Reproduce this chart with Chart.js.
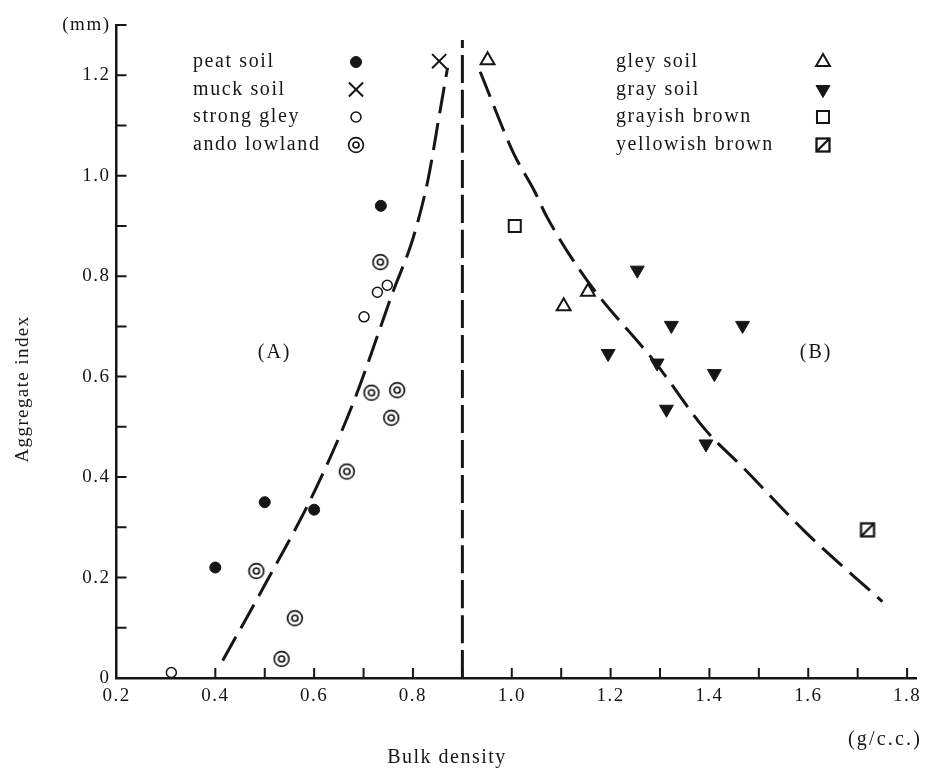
<!DOCTYPE html>
<html>
<head>
<meta charset="utf-8">
<title>Aggregate index vs bulk density</title>
<script src="https://cdn.jsdelivr.net/npm/chart.js@4.4.1/dist/chart.umd.min.js"></script>
<style>
    html, body { margin: 0; padding: 0; background: #fff; }
    #chart { display: block; }
</style>
</head>
<body>
<canvas id="chart" width="926" height="770"></canvas>
<script>
// points: [bulk density (g/c.c.), aggregate index (mm)]
const peatSoil = [[0.40, 0.22], [0.50, 0.35], [0.60, 0.335], [0.735, 0.94]];
const muckSoil = [[0.853, 1.228]];
const strongGley = [[0.311, 0.011], [0.701, 0.719], [0.728, 0.768], [0.748, 0.782]];
const andoLowland = [[0.483, 0.213], [0.534, 0.038], [0.561, 0.119], [0.666, 0.411], [0.716, 0.568], [0.734, 0.828], [0.756, 0.518], [0.768, 0.573]];
const gleySoil = [[0.951, 1.23], [1.105, 0.740], [1.154, 0.769]];
const graySoil = [[1.195, 0.646], [1.254, 0.812], [1.294, 0.627], [1.313, 0.535], [1.323, 0.702], [1.393, 0.466], [1.410, 0.606], [1.467, 0.702]];
const grayishBrown = [[1.006, 0.900]];
const yellowishBrown = [[1.72, 0.295]];

// dashed curves (A), (B) and the divider
const curveA = [[0.415, 0.035], [0.50, 0.185], [0.60, 0.37], [0.68, 0.55], [0.76, 0.77], [0.80, 0.875], [0.83, 0.99], [0.855, 1.13], [0.870, 1.215]];
const curveB = [[0.936, 1.207], [1.004, 1.044], [1.045, 0.971], [1.071, 0.918], [1.152, 0.792], [1.292, 0.626], [1.392, 0.494], [1.467, 0.420], [1.596, 0.289], [1.75, 0.152]];
const divider = [[0.9, 0], [0.9, 1.27]];

// axes
const xTicks = [0.2, 0.3, 0.4, 0.5, 0.6, 0.7, 0.8, 0.9, 1.0, 1.1, 1.2, 1.3, 1.4, 1.5, 1.6, 1.7, 1.8];
const xTickLabels = ['0.2', '', '0.4', '', '0.6', '', '0.8', '', '1.0', '', '1.2', '', '1.4', '', '1.6', '', '1.8'];
const xTickMarks = [0.4, 0.5, 0.6, 0.7, 0.8, 0.9, 1.0, 1.1, 1.2, 1.3, 1.4, 1.5, 1.6, 1.7, 1.8];
const yTicks = [0, 0.1, 0.2, 0.3, 0.4, 0.5, 0.6, 0.7, 0.8, 0.9, 1.0, 1.1, 1.2, 1.3];
const yTickLabels = ['0', '', '0.2', '', '0.4', '', '0.6', '', '0.8', '', '1.0', '', '1.2', '(mm)'];

const regionLabels = ['(A)', '(B)'];
const regionAt = [[0.52, 0.647], [1.616, 0.647]];

const INK = '#161616';
const SERIF = "'Liberation Serif', 'DejaVu Serif', serif";

function makeMarker(size, draw) {
    const c = document.createElement('canvas');
    c.width = size;
    c.height = size;
    draw(c.getContext('2d'), size / 2);
    return c;
}

const andoMarker = makeMarker(22, (g, m) => {
    g.strokeStyle = INK;
    g.fillStyle = '#fff';
    g.lineWidth = 1.7;
    g.beginPath();
    g.arc(m, m, 7.4, 0, Math.PI * 2);
    g.fill();
    g.stroke();
    g.beginPath();
    g.arc(m, m, 3, 0, Math.PI * 2);
    g.stroke();
});

const yellowMarker = makeMarker(20, (g, m) => {
    g.strokeStyle = INK;
    g.fillStyle = '#fff';
    g.lineWidth = 2.3;
    g.fillRect(m - 6.5, m - 6.5, 13, 13);
    g.strokeRect(m - 6.5, m - 6.5, 13, 13);
    g.beginPath();
    g.moveTo(m - 6.5, m + 6.5);
    g.lineTo(m + 6.5, m - 6.5);
    g.stroke();
});

const toXY = pts => pts.map(p => ({ x: p[0], y: p[1] }));

function pointSet(label, pts, style) {
    return Object.assign({
        label: label,
        data: toXY(pts),
        order: 1,
        borderColor: INK,
        backgroundColor: INK,
        pointBorderWidth: 1.5
    }, style);
}

function dashSet(pts, dash) {
    return {
        label: '',
        data: toXY(pts),
        showLine: true,
        order: 2,
        borderColor: INK,
        borderWidth: 3,
        borderDash: dash,
        borderCapStyle: 'butt',
        pointRadius: 0,
        cubicInterpolationMode: 'monotone'
    };
}

const datasets = [
    pointSet('peat soil', peatSoil, { pointStyle: 'circle', pointRadius: 5.5, pointBorderWidth: 1 }),
    pointSet('muck soil', muckSoil, { pointStyle: 'crossRot', pointRadius: 10, pointBorderWidth: 2 }),
    pointSet('strong gley', strongGley, { pointStyle: 'circle', pointRadius: 5, backgroundColor: '#fff' }),
    pointSet('ando lowland', andoLowland, { pointStyle: andoMarker, pointRadius: 8 }),
    pointSet('gley soil', gleySoil, { pointStyle: 'triangle', pointRadius: 8, backgroundColor: '#fff', pointBorderWidth: 2 }),
    pointSet('gray soil', graySoil, { pointStyle: 'triangle', pointRotation: 180, pointRadius: 8, pointBorderWidth: 1 }),
    pointSet('grayish brown', grayishBrown, { pointStyle: 'rect', pointRadius: 8.5, backgroundColor: '#fff', pointBorderWidth: 2 }),
    pointSet('yellowish brown', yellowishBrown, { pointStyle: yellowMarker, pointRadius: 8 }),
    dashSet(curveA, [27, 10]),
    dashSet(curveB, [27, 10]),
    dashSet(divider, [28, 7])
];

function text(ctx, str, x, y, size, spacing, align) {
    ctx.font = size + 'px ' + SERIF;
    ctx.letterSpacing = spacing + 'px';
    ctx.textAlign = align || 'center';
    ctx.textBaseline = 'middle';
    ctx.fillText(str, x, y);
}

const paperPlugin = {
    id: 'paper',
    beforeDraw(chart) {
        const ctx = chart.ctx;
        ctx.save();
        ctx.fillStyle = '#fff';
        ctx.fillRect(0, 0, chart.width, chart.height);
        ctx.restore();
        ctx.letterSpacing = '1.5px';
    },
    afterDraw(chart) {
        const ctx = chart.ctx;
        const xs = chart.scales.x;
        const ys = chart.scales.y;
        const area = chart.chartArea;
        ctx.save();

        // tick marks point inward
        ctx.strokeStyle = INK;
        ctx.lineWidth = 2;
        ctx.beginPath();
        xTickMarks.forEach(v => {
            const px = xs.getPixelForValue(v);
            ctx.moveTo(px, area.bottom);
            ctx.lineTo(px, area.bottom - 10);
        });
        yTicks.forEach(v => {
            const py = ys.getPixelForValue(v);
            ctx.moveTo(area.left, py);
            ctx.lineTo(area.left + 10, py);
        });
        ctx.stroke();

        ctx.fillStyle = INK;

        // axis titles
        text(ctx, 'Bulk density', 447, 758, 20, 1.5);
        text(ctx, '(g/c.c.)', 885, 740, 20, 2.2);
        ctx.save();
        ctx.translate(23, 389);
        ctx.rotate(-Math.PI / 2);
        text(ctx, 'Aggregate index', 0, 0, 19, 1.4);
        ctx.restore();

        // region labels
        regionLabels.forEach((lab, i) => {
            text(ctx, lab, xs.getPixelForValue(regionAt[i][0]), ys.getPixelForValue(regionAt[i][1]), 20, 2);
        });

        // two-column legend, text left and symbol right
        const rows = [62, 89.5, 117, 145];
        const cols = [{ text: 193, mark: 356 }, { text: 616, mark: 823 }];
        chart.data.datasets.slice(0, 8).forEach((ds, i) => {
            const col = cols[Math.floor(i / 4)];
            const y = rows[i % 4];
            ctx.fillStyle = INK;
            text(ctx, ds.label, col.text, y, 20, 1.6, 'left');
            ctx.fillStyle = ds.backgroundColor;
            ctx.strokeStyle = ds.borderColor;
            ctx.lineWidth = ds.pointBorderWidth;
            Chart.helpers.drawPoint(ctx, {
                pointStyle: ds.pointStyle,
                rotation: ds.pointRotation || 0,
                radius: ds.pointRadius,
                borderWidth: ds.pointBorderWidth
            }, col.mark, y);
        });
        ctx.restore();
    }
};

const tickFont = { family: SERIF, size: 19 };

new Chart(document.getElementById('chart'), {
    type: 'scatter',
    data: { datasets: datasets },
    options: {
        responsive: false,
        animation: false,
        devicePixelRatio: 1,
        events: [],
        layout: { padding: { top: 25, right: 4, bottom: 0, left: 0 }, autoPadding: false },
        plugins: {
            legend: { display: false },
            tooltip: { enabled: false }
        },
        scales: {
            x: {
                type: 'linear',
                min: 0.2,
                max: 1.82,
                afterBuildTicks: s => { s.ticks = xTicks.map(v => ({ value: v })); },
                afterFit: s => { s.height = 92; },
                grid: { display: false, drawTicks: false },
                border: { display: true, color: INK, width: 2.5 },
                ticks: {
                    autoSkip: false,
                    maxRotation: 0,
                    padding: 7,
                    color: INK,
                    font: tickFont,
                    callback: (v, i) => xTickLabels[i]
                }
            },
            y: {
                type: 'linear',
                min: 0,
                max: 1.3,
                afterBuildTicks: s => { s.ticks = yTicks.map(v => ({ value: v })); },
                afterFit: s => { s.width = 116.5; },
                grid: { display: false, drawTicks: false },
                border: { display: true, color: INK, width: 2.5 },
                ticks: {
                    autoSkip: false,
                    padding: 6,
                    color: INK,
                    font: tickFont,
                    callback: (v, i) => yTickLabels[i]
                }
            }
        }
    },
    plugins: [paperPlugin]
});
</script>
</body>
</html>
